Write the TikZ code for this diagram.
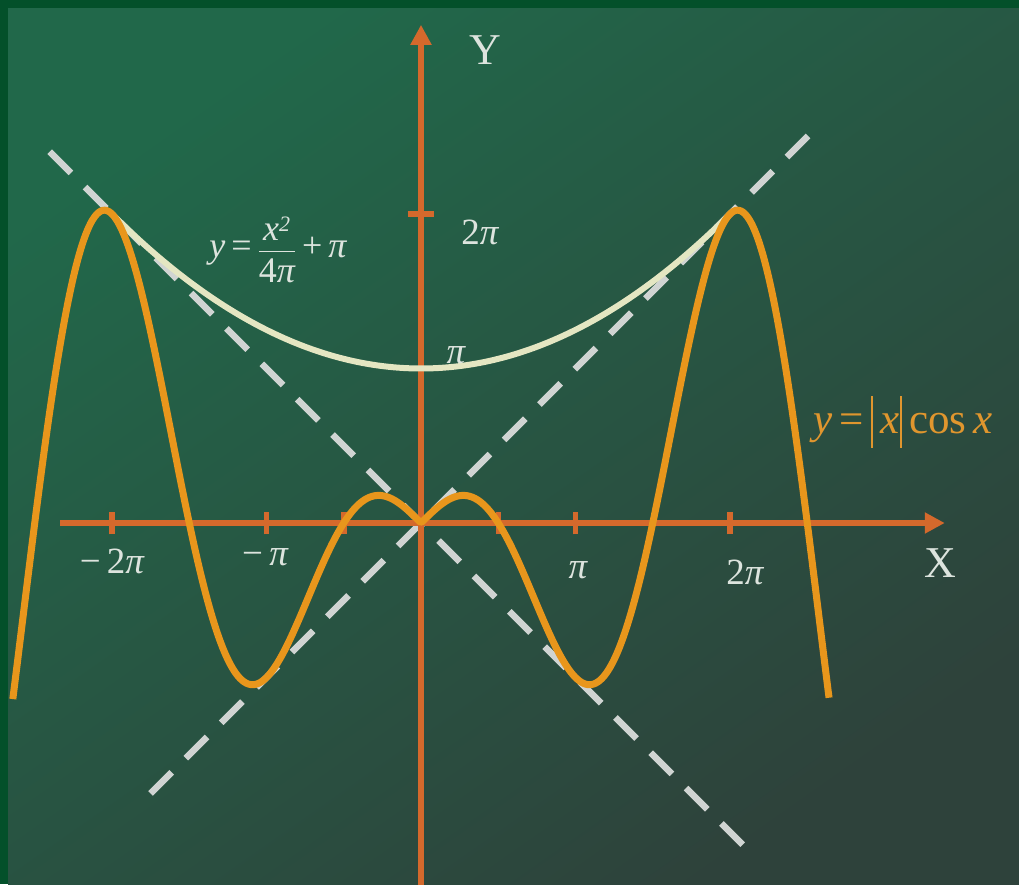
\documentclass[tikz,border=0pt]{standalone}
\usepackage{fontspec}
\setmainfont{Liberation Serif}
\usetikzlibrary{arrows.meta}
\definecolor{bordergreen}{HTML}{03502A}
\definecolor{bgA}{HTML}{21684A}
\definecolor{bgD}{HTML}{2E423B}
\definecolor{axiscol}{HTML}{D4692C}
\definecolor{curvecol}{HTML}{E8961C}
\definecolor{parabcol}{HTML}{E4E6C2}
\definecolor{dashcol}{HTML}{D0D4D2}
\definecolor{labelcol}{HTML}{DDE4DE}
\definecolor{curvelab}{HTML}{E0962E}
\begin{document}
\begin{tikzpicture}[x=1pt,y=1pt,
  axisline/.style={draw=axiscol,line width=5.5pt,-{Triangle[length=20pt,width=20pt]}},
  tickmark/.style={draw=axiscol,line width=5.5pt},
  asym/.style={draw=dashcol,line width=6.5pt,dash pattern=on 30pt off 20pt},
  curveline/.style={draw=curvecol,line width=7pt,line join=round},
  parabline/.style={draw=parabcol,line width=6pt},
  axlabel/.style={text=labelcol,inner sep=0pt,font=\fontsize{44}{48}\selectfont},
  ticklabel/.style={text=labelcol,inner sep=0pt,font=\fontsize{37}{40}\selectfont},
  formula/.style={inner sep=0pt,font=\fontsize{36}{40}\selectfont}]
\useasboundingbox (0,0) rectangle (1019,884);
\fill[bordergreen] (0,0) rectangle (1019,884);
\shade[top color=bgA, bottom color=bgD, shading angle=35] (8,0) rectangle (1019,875);

\begin{scope}[shift={(421pt,361pt)}, x=49.18pt, y=49.18pt]
  % dashed lines y=-x and y=x
  \coordinate (d1a) at (-7.55,7.55);
  \coordinate (d1b) at (6.54,-6.54);
  \coordinate (d2a) at (-5.5,-5.5);
  \coordinate (d2b) at (7.87,7.87);
  \draw[asym] (d1a) -- (d1b);
  \draw[asym] (d2a) -- (d2b);
  % axes
  \coordinate (xs) at (-7.34,0);
  \coordinate (xe) at (10.65,0);
  \coordinate (ys) at (0,-7.4);
  \coordinate (ye) at (0,10.13);
  \draw[axisline] (xs) -- (xe);
  \draw[axisline] (ys) -- (ye);
  % ticks
  \foreach \t in {-2,-1,-0.5,0.5,1,2}{
    \draw[tickmark] ({\t*pi},-0.23) -- ({\t*pi},0.23);
  }
  \draw[tickmark] (-0.27,{2*pi}) -- (0.27,{2*pi});
  % parabola
  \draw[parabline] plot[domain={-2*pi}:{2*pi},samples=120,smooth] (\x,{\x*\x/(4*pi)+pi});
  % curve y=|x|cos x
  \draw[curveline] plot[domain=-8.3:8.3,samples=400,smooth] (\x,{abs(\x)*cos(\x r)});
\end{scope}

% labels
\node[axlabel] (ylab) at (485,834) {Y};
\node[axlabel] (xlab) at (940,321) {X};
\node[ticklabel] (y2pi) at (480,652) {2\itshape π};
\node[ticklabel] (ypi) at (456,529) {\itshape π};
\node[ticklabel] (xm2pi) at (112,323) {−\,2\itshape π};
\node[ticklabel] (xmpi) at (265,327) {−\,\itshape π};
\node[ticklabel] (xpi) at (578,314) {\itshape π};
\node[ticklabel] (x2pi) at (745,312) {2\itshape π};
\node[formula,text=labelcol] (plab) at (278,634)
  {\itshape y\upshape\,=\,$\displaystyle\frac{\hbox{\itshape x\textsuperscript{\fontsize{22}{24}\selectfont 2}}\rule[-6pt]{0pt}{6pt}}{\hbox{\rule{0pt}{30pt}4\itshape π}}$\,+\,\itshape π};
\node[formula,text=curvelab,font=\fontsize{43}{46}\selectfont] (clab) at (903,462)
  {\itshape y\upshape\,=\,\rule[-0.33em]{2.6pt}{1.2em}\,\itshape x\upshape\rule[-0.33em]{2.6pt}{1.2em}\,cos\,\itshape x};
\end{tikzpicture}
\end{document}
